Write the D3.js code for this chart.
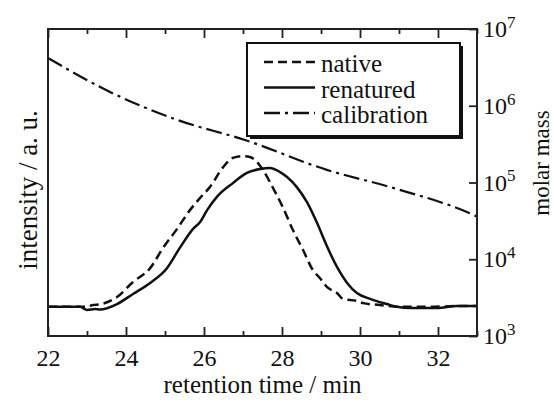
<!DOCTYPE html>
<html>
<head>
<meta charset="utf-8">
<script src="https://cdn.jsdelivr.net/npm/d3@7"></script>
<style>
  body { margin: 0; background: #fff; }
  svg, svg text { font-family: "Liberation Serif", "Times New Roman", Tinos, "DejaVu Serif", "Noto Serif", serif; fill: #111; }
</style>
</head>
<body>
<div id="chart"></div>
<script>
// retention time (min) and intensity (a. u.)
const nativeTime = [22.0, 23.0, 23.15, 23.33, 23.77, 24.18, 24.62, 24.95, 25.31, 25.64, 25.9, 26.15, 26.49, 26.74, 27.0, 27.18, 27.36, 27.51, 27.77, 28.03, 28.28, 28.54, 28.79, 28.97, 29.15, 29.41, 29.56, 29.92, 30.08, 30.51, 31.03, 31.79, 32.56, 33.0];
const nativeIntensity = [9.5, 9.5, 10.1, 10.3, 12.7, 17.6, 22.1, 28.7, 34.9, 41.0, 45.0, 48.5, 55.0, 58.0, 58.6, 58.3, 56.7, 54.1, 48.2, 41.7, 34.5, 28.0, 21.5, 18.9, 16.0, 14.0, 12.1, 11.4, 10.7, 10.1, 9.5, 9.5, 9.8, 9.8];

const renaturedTime = [22.0, 22.82, 23.0, 23.21, 23.33, 23.77, 24.18, 24.62, 25.05, 25.38, 25.72, 25.9, 26.08, 26.33, 26.74, 27.1, 27.44, 27.69, 27.95, 28.13, 28.38, 28.64, 28.9, 29.15, 29.41, 29.67, 29.92, 30.26, 30.69, 30.95, 31.28, 31.97, 32.49, 33.0];
const renaturedIntensity = [9.5, 9.5, 8.5, 8.8, 8.6, 10.4, 13.7, 17.3, 22.1, 28.7, 34.9, 37.1, 41.0, 45.3, 49.8, 53.1, 54.4, 54.7, 53.4, 51.8, 48.5, 43.6, 36.8, 29.3, 22.5, 17.3, 14.0, 12.1, 10.4, 9.5, 9.1, 9.1, 9.8, 9.8];

// calibration: molar mass vs retention time
const calibrationTime = [22.0, 23.64, 25.33, 27.05, 29.15, 30.85, 32.9, 33.0];
const calibrationMass = [4.19e6, 1.47e6, 6.5e5, 3.58e5, 1.46e5, 8.5e4, 3.8e4, 3.6e4];

const majorTicks = [22, 24, 26, 28, 30, 32];
const minorTicks = [23, 25, 27, 29, 31, 33];
const massTicks = [1e3, 1e4, 1e5, 1e6, 1e7];

const legendLabels = ["native", "renatured", "calibration"];
const legendDash = ["9,5", null, "16,5,3,5"];

const serif = "'Liberation Serif', 'Times New Roman', Tinos, 'DejaVu Serif', 'Noto Serif', serif";

var width = 554, height = 400;
var margin = {top: 29, right: 77, bottom: 64, left: 48};

var svg = d3.select("#chart").append("svg")
  .attr("width", width)
  .attr("height", height)
  .style("font-family", serif);

var x = d3.scaleLinear().domain([22, 33]).range([margin.left, width - margin.right]);
var y = d3.scaleLinear().domain([0, 100]).range([height - margin.bottom, margin.top]);
var yMass = d3.scaleLog().domain([1e3, 1e7]).range([height - margin.bottom, margin.top]);

var bottom = height - margin.bottom;

// curves
var line = d3.line().curve(d3.curveMonotoneX);

svg.append("path")
  .attr("d", line(calibrationTime.map((t, i) => [x(t), yMass(calibrationMass[i])])))
  .attr("fill", "none")
  .attr("stroke", "#111")
  .attr("stroke-width", 2.2)
  .attr("stroke-dasharray", legendDash[2]);

svg.append("path")
  .attr("d", line(nativeTime.map((t, i) => [x(t), y(nativeIntensity[i])])))
  .attr("fill", "none")
  .attr("stroke", "#111")
  .attr("stroke-width", 2.5)
  .attr("stroke-dasharray", legendDash[0]);

svg.append("path")
  .attr("d", line(renaturedTime.map((t, i) => [x(t), y(renaturedIntensity[i])])))
  .attr("fill", "none")
  .attr("stroke", "#111")
  .attr("stroke-width", 2.5);

// x axes, ticks pointing inward
svg.append("g")
  .attr("transform", "translate(0," + bottom + ")")
  .call(d3.axisBottom(x).tickValues(majorTicks).tickSize(-9).tickPadding(13).tickFormat(d3.format("d")));
svg.append("g")
  .attr("transform", "translate(0," + bottom + ")")
  .call(d3.axisBottom(x).tickValues(minorTicks).tickSize(-5).tickFormat(""));
svg.append("g")
  .attr("transform", "translate(0," + margin.top + ")")
  .call(d3.axisTop(x).tickValues(majorTicks).tickSize(-9).tickFormat(""));
svg.append("g")
  .attr("transform", "translate(0," + margin.top + ")")
  .call(d3.axisTop(x).tickValues(minorTicks).tickSize(-5).tickFormat(""));

// right log axis
var right = svg.append("g")
  .attr("transform", "translate(" + (width - margin.right) + ",0)")
  .call(d3.axisRight(yMass).tickValues(massTicks).tickSize(-8).tickPadding(6).tickFormat(""));

right.selectAll(".tick text")
  .attr("dy", "0.32em")
  .each(function(d) {
    var t = d3.select(this);
    t.append("tspan").text("10");
    t.append("tspan")
      .attr("dy", "-0.55em")
      .style("font-size", "17px")
      .text(Math.round(Math.log10(d)));
  });

svg.selectAll(".domain").remove();
svg.selectAll("g").attr("font-family", serif);
svg.selectAll(".tick line").attr("stroke", "#222").attr("stroke-width", 1.8);
svg.selectAll(".tick text")
  .style("font-family", serif)
  .style("font-size", "24px")
  .attr("fill", "#111");

// frame
svg.append("rect")
  .attr("x", margin.left)
  .attr("y", margin.top)
  .attr("width", width - margin.left - margin.right)
  .attr("height", bottom - margin.top)
  .attr("fill", "none")
  .attr("stroke", "#222")
  .attr("stroke-width", 2);

// axis titles
svg.append("text")
  .attr("x", (margin.left + width - margin.right) / 2)
  .attr("y", 393)
  .attr("text-anchor", "middle")
  .style("font-size", "25px")
  .text("retention time / min");

svg.append("text")
  .attr("transform", "translate(37," + 190 + ") rotate(-90)")
  .attr("text-anchor", "middle")
  .style("font-size", "27px")
  .text("intensity / a. u.");

svg.append("text")
  .attr("transform", "translate(549," + 163 + ") rotate(-90)")
  .attr("text-anchor", "middle")
  .style("font-size", "23px")
  .text("molar mass");

// legend with drop shadow
var legend = svg.append("g");
legend.append("rect")
  .attr("x", 250).attr("y", 46)
  .attr("width", 213).attr("height", 93)
  .attr("fill", "#111");
legend.append("rect")
  .attr("x", 247).attr("y", 43)
  .attr("width", 213).attr("height", 93)
  .attr("fill", "#fff")
  .attr("stroke", "#111")
  .attr("stroke-width", 2);

legendLabels.forEach(function(label, i) {
  var ly = 62 + i * 25.5;
  legend.append("line")
    .attr("x1", 264).attr("x2", 315)
    .attr("y1", ly).attr("y2", ly)
    .attr("stroke", "#111")
    .attr("stroke-width", 2.5)
    .attr("stroke-dasharray", legendDash[i]);
  legend.append("text")
    .attr("x", 321)
    .attr("y", ly + 10)
    .style("font-size", "25px")
    .text(label);
});
</script>
</body>
</html>
